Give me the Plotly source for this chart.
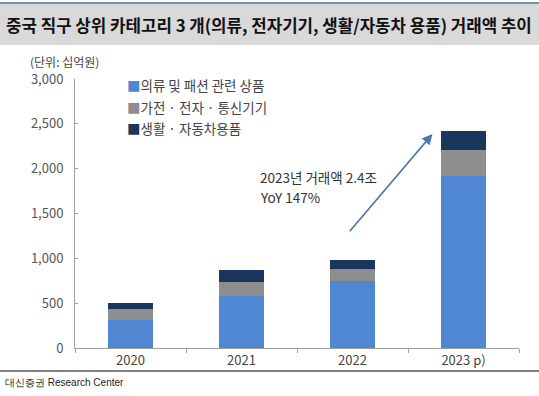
import plotly.graph_objects as go

years = ["2020", "2021", "2022", "2023 p)"]
clothing = [315, 583, 747, 1921]
electronics = [116, 153, 134, 283]
living = [74, 130, 97, 212]
series_names = ["의류 및 패션 관련 상품", "가전 · 전자 · 통신기기", "생활 · 자동차용품"]
colors = ["#4f87d3", "#8e8e8e", "#1b365d"]
yticks = [0, 500, 1000, 1500, 2000, 2500, 3000]

FONT = "Noto Sans CJK KR"
W, H = 539, 396
ML, MR, MT, MB = 75, 20, 79, 48
PW, PH = W - ML - MR, H - MT - MB


def px_x(p):
    return (p - ML) / PW


def px_y(p):
    return (H - MB - p) / PH


fig = go.Figure()
for name, vals, col in zip(series_names, [clothing, electronics, living], colors):
    fig.add_trace(go.Bar(x=years, y=vals, name=name, marker_color=col,
                         marker_line_width=0, showlegend=False))

fig.update_layout(
    width=W, height=H, barmode="stack", bargap=0.6,
    margin=dict(l=ML, r=MR, t=MT, b=MB),
    paper_bgcolor="white", plot_bgcolor="white",
    font=dict(family=FONT, color="#444"),
    xaxis=dict(type="category", showline=True, linecolor="#a0a0a0", linewidth=1,
               ticks="outside", tickson="boundaries", ticklen=4, tickcolor="#a0a0a0",
               tickfont=dict(size=13, color="#444"), showgrid=False),
    yaxis=dict(range=[0, 3000], tickvals=yticks, tickformat=",",
               showline=True, linecolor="#a0a0a0", linewidth=1,
               ticks="inside", ticklen=3, tickcolor="#a0a0a0", ticklabelstandoff=8,
               tickfont=dict(size=13, color="#555"), showgrid=False, zeroline=False),
)

shapes = [
    dict(type="rect", xref="paper", yref="paper", x0=px_x(0), x1=px_x(W),
         y0=px_y(45), y1=px_y(4), fillcolor="#d9d9d9", line_width=0, layer="below"),
    dict(type="line", xref="paper", yref="paper", x0=px_x(0), x1=px_x(W),
         y0=px_y(3), y1=px_y(3), line=dict(color="#6f98a6", width=2)),
    dict(type="line", xref="paper", yref="paper", x0=px_x(0), x1=px_x(W),
         y0=px_y(371), y1=px_y(371), line=dict(color="#808080", width=2)),
]
fig.update_layout(shapes=shapes)

ann = [
    dict(text="<b>중국 직구 상위 카테고리 3 개(의류, 전자기기, 생활/자동차 용품) 거래액 추이</b>",
         xref="paper", yref="paper", x=px_x(4), y=px_y(25), xanchor="left", yanchor="middle",
         showarrow=False, font=dict(size=16.8, color="#111", family=FONT)),
    dict(text="(단위: 십억원)", xref="paper", yref="paper", x=px_x(28), y=px_y(61),
         xanchor="left", yanchor="middle", showarrow=False, font=dict(size=12, color="#444")),
    dict(text="대신증권 Research Center", xref="paper", yref="paper", x=px_x(3), y=px_y(382),
         xanchor="left", yanchor="middle", showarrow=False,
         font=dict(size=10, color="#222", family="Liberation Sans Narrow, Liberation Sans")),
    dict(text="2023년 거래액 2.4조", xref="paper", yref="paper", x=px_x(259), y=px_y(177),
         xanchor="left", yanchor="middle", showarrow=False, borderpad=0,
         font=dict(size=13.5, color="#333")),
    dict(text="YoY 147%", xref="paper", yref="paper", x=px_x(259), y=px_y(196.5),
         xanchor="left", yanchor="middle", showarrow=False, borderpad=0,
         font=dict(size=13.5, color="#333")),
    dict(text="", xref="x", yref="y", x=2.72, y=2386, ax=1.964, ay=1285,
         axref="x", ayref="y", showarrow=True, arrowhead=2, arrowsize=1.3,
         arrowwidth=1.6, arrowcolor="#4a78ad"),
]
for i, (name, col) in enumerate(zip(series_names, colors)):
    ann.append(dict(text=f"<span style='color:{col}'>■</span>{name}", xref="paper", yref="paper",
                    x=px_x(125), y=px_y(85 + 21.5 * i), xanchor="left", yanchor="middle",
                    showarrow=False, font=dict(size=13.5, color="#444")))
fig.update_layout(annotations=ann)

fig.write_html("out.html")
